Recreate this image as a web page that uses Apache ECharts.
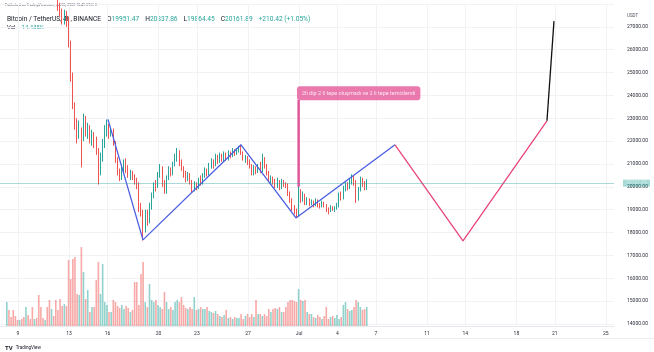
<!DOCTYPE html>
<html>
<head>
<meta charset="utf-8">
<script src="https://cdn.jsdelivr.net/npm/echarts@6/dist/echarts.min.js"></script>
<style>
  html, body { margin: 0; padding: 0; background: #fff; }
  #main { width: 654px; height: 352px; }
</style>
</head>
<body>
<div id="main"></div>
<script>
// BTC/USDT 4h (Binance), times in UTC+3, x = days since Jun 1 00:00
var firstCandleDay = 7.125;   // Jun 8 03:00
var candleStep = 1 / 6;       // 4 hours

// [open, close, low, high]
var candles = [
  [31100, 31250, 30950, 31350], [31250, 30900, 30800, 31300], [30900, 30600, 30400, 31000],
  [30600, 30400, 30200, 30750], [30400, 30250, 30050, 30500], [30250, 30200, 30050, 30400],
  [30200, 30400, 30100, 30650], [30400, 30250, 30150, 30500], [30250, 30150, 30000, 30350],
  [30150, 30300, 30050, 30400], [30300, 30200, 30100, 30450], [30200, 30100, 30000, 30300],
  [30100, 29950, 29850, 30200], [29950, 30050, 29850, 30150], [30050, 29700, 29600, 30100],
  [29700, 29300, 29200, 29800], [29300, 29150, 28900, 29400], [29150, 29100, 29000, 29300],
  [29100, 29200, 29000, 29450], [29200, 29000, 28900, 29300], [29000, 28750, 28600, 29100],
  [28750, 28800, 28600, 28950], [28800, 28450, 28300, 28900], [28450, 28400, 28200, 28550],
  [28400, 27900, 27700, 28500], [27900, 27650, 27450, 28050], [27650, 27400, 27100, 27800],
  [27400, 27550, 27100, 27750], [27550, 27300, 27000, 27700], [27300, 26300, 26100, 27450],
  [26300, 24800, 24600, 26400], [24800, 23500, 23400, 25000], [23500, 22800, 22500, 23700],
  [22800, 22300, 21900, 23000], [22300, 22500, 22100, 22900], [22500, 22100, 20850, 22600],
  [22100, 22900, 22000, 23200], [22900, 22400, 22200, 23100], [22400, 22600, 22100, 22800],
  [22600, 22100, 21900, 22700], [22100, 22300, 21800, 22500], [22300, 22050, 21700, 22400],
  [22050, 21600, 21400, 22200], [21600, 20600, 20100, 21700], [20600, 21300, 20500, 21500],
  [21300, 21900, 21100, 22100], [21900, 22500, 21700, 22700], [22500, 22600, 22200, 22950],
  [22600, 22300, 22100, 22750], [22300, 22450, 22200, 22600], [22450, 21900, 21800, 22550],
  [21900, 21200, 21050, 22000], [21200, 20700, 20500, 21300], [20700, 20400, 20250, 20800],
  [20400, 20700, 20300, 20900], [20700, 21000, 20600, 21200], [21000, 20800, 20600, 21250],
  [20800, 20500, 20400, 20950], [20500, 20600, 20300, 20750], [20600, 20450, 20300, 20700],
  [20450, 20300, 20100, 20550], [20300, 20100, 19900, 20400], [20100, 19100, 18900, 20200],
  [19100, 18900, 18700, 19300], [18900, 18200, 17650, 19000], [18200, 18800, 18000, 19000],
  [18800, 18500, 18300, 19000], [18500, 19100, 18400, 19300], [19100, 19600, 19000, 19750],
  [19600, 20100, 19500, 20200], [20100, 20000, 19800, 20300], [20000, 20500, 19950, 20650],
  [20500, 20800, 20400, 21000], [20800, 20200, 20000, 20900], [20200, 19800, 19700, 20300],
  [19800, 20400, 19700, 20500], [20400, 20700, 20300, 20900], [20700, 20600, 20450, 20850],
  [20600, 21000, 20500, 21100], [21000, 21300, 20900, 21450], [21300, 21500, 21100, 21700],
  [21500, 21100, 20900, 21600], [21100, 20800, 20700, 21200], [20800, 20600, 20400, 20900],
  [20600, 20400, 20200, 20700], [20400, 20500, 20250, 20650], [20500, 20200, 20100, 20600],
  [20200, 19950, 19750, 20300], [19950, 20100, 19800, 20250], [20100, 20000, 19850, 20200],
  [20000, 20300, 19900, 20400], [20300, 20200, 20050, 20500], [20200, 20500, 20100, 20600],
  [20500, 20700, 20400, 20850], [20700, 20600, 20450, 20800], [20600, 20900, 20500, 21050],
  [20900, 21100, 20800, 21250], [21100, 20950, 20800, 21200], [20950, 21300, 20900, 21450],
  [21300, 21150, 21000, 21400], [21150, 21350, 21050, 21500], [21350, 21200, 21100, 21450],
  [21200, 21400, 21100, 21550], [21400, 21250, 21150, 21500], [21250, 21450, 21150, 21600],
  [21450, 21350, 21250, 21550], [21350, 21550, 21300, 21700], [21550, 21500, 21350, 21650],
  [21500, 21600, 21400, 21700], [21600, 21750, 21500, 21800], [21750, 21500, 21400, 21850],
  [21500, 21250, 21150, 21550], [21250, 21300, 21050, 21400], [21300, 21050, 20950, 21350],
  [21050, 20900, 20800, 21200], [20900, 20600, 20500, 21000], [20600, 20800, 20500, 20950],
  [20800, 20700, 20550, 20900], [20700, 20850, 20600, 21000], [20850, 20700, 20600, 21100],
  [20700, 21200, 20650, 21450], [21200, 20900, 20800, 21300], [20900, 20600, 20500, 21000],
  [20600, 20300, 20200, 20700], [20300, 20400, 20150, 20500], [20400, 20250, 20100, 20450],
  [20250, 20100, 19950, 20350], [20100, 20200, 19950, 20400], [20200, 20000, 19850, 20300],
  [20000, 20250, 19900, 20350], [20250, 20100, 20000, 20300], [20100, 20050, 19950, 20200],
  [20050, 19700, 19600, 20150], [19700, 19400, 19300, 19800], [19400, 19100, 18950, 19500],
  [19100, 18900, 18800, 19200], [18900, 18800, 18640, 19050], [18800, 19800, 18700, 20100],
  [19800, 19500, 19300, 19900], [19500, 19650, 19350, 19800], [19650, 19300, 19200, 19700],
  [19300, 19450, 19200, 19550], [19450, 19300, 19150, 19500], [19300, 19350, 19200, 19450],
  [19350, 19200, 19100, 19400], [19200, 19400, 19150, 19500], [19400, 19250, 19100, 19450],
  [19250, 19150, 19050, 19300], [19150, 19300, 19100, 19400], [19300, 19200, 19100, 19350],
  [19200, 19050, 18900, 19250], [19050, 18950, 18800, 19100], [18950, 19100, 18900, 19200],
  [19100, 19000, 18950, 19150], [19000, 19050, 18900, 19150], [19050, 19200, 19000, 19300],
  [19200, 19650, 19100, 19750], [19650, 19550, 19400, 19800], [19550, 19900, 19450, 20050],
  [19900, 20050, 19800, 20200], [20050, 19950, 19850, 20200], [19950, 20200, 19900, 20350],
  [20200, 20400, 20100, 20550], [20400, 20200, 20050, 20500], [20200, 19500, 19300, 20300],
  [19500, 19900, 19400, 20000], [19900, 20300, 19800, 20450], [20300, 20150, 20000, 20400],
  [20150, 19950, 19850, 20250], [19951.47, 20161.89, 19864.45, 20337.86]
];

// volume, thousands of BTC
var volumes = [
  18.2, 12.2, 6.8, 12.2, 7.6, 4.6, 4.6, 5.3, 6.8, 14.4, 8.4, 5.3, 14.4, 5.3, 6.1, 23.6,
  14.4, 6.1, 4.6, 14.4, 19.8, 12.9, 7.6, 19.8, 12.2, 20.5, 15.2, 16.7, 15.2, 50.2, 35.7, 50.9,
  52.4, 24.3, 23.6, 60.0, 41.0, 20.5, 27.4, 10.6, 14.4, 14.4, 35.0, 48.6, 24.3, 47.1, 18.2, 16.0,
  10.6, 10.6, 19.8, 18.2, 15.2, 13.7, 16.0, 12.9, 15.2, 13.7, 10.6, 12.2,
  33.4, 33.4, 16.0, 39.5, 48.6, 18.2, 14.4, 31.9, 19.8, 18.2, 19.8, 16.0, 14.4, 12.9, 25.8, 18.2,
  12.9, 14.4, 12.2, 18.2, 19.8, 18.2, 22.0, 16.0, 13.7, 12.9, 14.4, 12.9, 22.0, 12.2, 12.9,
  14.4, 12.9, 12.9, 14.4, 11.4, 10.6, 9.9, 11.4, 9.1,
  7.6, 6.8, 8.4, 12.2, 6.1, 6.8, 5.3, 6.8, 6.1, 6.1,
  9.1, 5.3, 7.6, 9.1, 6.8, 9.1, 6.8, 19.8, 9.1, 9.1,
  7.6, 9.1, 7.6, 12.9, 10.6, 12.9, 13.7, 12.9, 14.4, 10.6,
  10.6, 14.4, 18.2, 19.8, 19.8, 19.0, 18.2, 28.1, 19.8, 19.0,
  19.8, 10.6, 9.1, 9.1, 6.8, 6.1, 8.4, 6.8, 5.3, 7.6,
  14.4, 5.3, 6.8, 7.6, 6.1, 8.4, 5.3, 6.8, 16.0, 18.2,
  12.9, 11.4, 12.2, 14.4, 19.8, 18.2, 14.4, 12.2, 12.9, 14.435
];

var tickDays = [8, 12, 15, 19, 22, 26, 30, 33, 36, 40, 43, 47, 50, 54];
var tickLabels = ['9', '13', '16', '20', '23', '27', 'Jul', '4', '7', '11', '14', '18', '21', '25'];

// drawn pattern: [day, price]
var blueWave = [[15.04, 22950], [17.78, 17680], [25.45, 21840], [29.75, 18640], [37.5, 21840]];
var pinkWave = [[37.5, 21840], [42.82, 17640], [49.39, 22890]];
var blackLeg = [[49.39, 22890], [49.94, 27250]];
var notePointer = [[29.96, 20000], [29.96, 23800]];
var noteAnchor = [[29.83, 24090]];
var noteText = '2li dip 2 li tepe oluşmadı ve 2 li tepe temizlendi';

var lastPrice = 20161.89;
var lastVolume = 14.435;

var UP = '#26a69a', DOWN = '#ef5350';
var FONT = 'Roboto';

var candleData = candles.map(function (c, i) {
  return [firstCandleDay + i * candleStep, c[0], c[1], c[2], c[3]];
});
var volumeData = volumes.map(function (v, i) {
  var up = candles[i][1] >= candles[i][0];
  return {
    value: [firstCandleDay + i * candleStep, v],
    itemStyle: { color: up ? 'rgba(38,166,154,0.5)' : 'rgba(239,83,80,0.5)' }
  };
});

var xMin = 6.592, xMax = 54.636;
var chart = echarts.init(document.getElementById('main'));
chart.setOption({
  animation: false,
  backgroundColor: '#fff',
  textStyle: { fontFamily: FONT },
  grid: [
    { left: 0, right: 40, top: 4, height: 320 },
    { left: 0, right: 40, top: 226, height: 100 }
  ],
  xAxis: [
    {
      type: 'value', gridIndex: 0, min: xMin, max: xMax,
      axisLine: { show: false }, axisLabel: { show: false },
      axisTick: { show: false, customValues: tickDays },
      splitLine: { show: true, lineStyle: { color: '#f0f2f6', width: 1 } }
    },
    {
      type: 'value', gridIndex: 1, min: xMin, max: xMax,
      axisLine: { show: true, lineStyle: { color: '#e6e8ee' } },
      axisTick: { show: false, customValues: tickDays },
      splitLine: { show: false },
      axisLabel: {
        customValues: tickDays, fontSize: 5, color: '#2a2e39', margin: 5, fontFamily: FONT,
        formatter: function (v) {
          var k = tickDays.indexOf(v);
          return k < 0 ? '' : tickLabels[k];
        }
      }
    }
  ],
  yAxis: [
    {
      type: 'value', gridIndex: 0, position: 'right', min: 14000, max: 28000, interval: 1000,
      axisLine: { show: false }, axisTick: { show: false },
      splitLine: { show: true, lineStyle: { color: '#f0f2f6', width: 1 } },
      axisLabel: {
        fontSize: 5, color: '#2a2e39', margin: 13, fontFamily: FONT,
        formatter: function (v) { return v >= 28000 ? '' : v.toFixed(2); }
      }
    },
    { type: 'value', gridIndex: 1, min: 0, max: 76, show: false }
  ],
  series: [
    {
      type: 'bar', xAxisIndex: 1, yAxisIndex: 1, data: volumeData,
      barWidth: 1.6, silent: true,
      markLine: {
        silent: true, symbol: 'none',
        lineStyle: { opacity: 0 },
        label: {
          position: 'end', distance: 9, formatter: lastVolume.toFixed(3) + 'K',
          backgroundColor: UP, color: '#fff', fontSize: 5, padding: [1, 3, 1, 3], fontFamily: FONT
        },
        data: [{ yAxis: lastVolume }]
      }
    },
    {
      type: 'candlestick', xAxisIndex: 0, yAxisIndex: 0,
      data: candleData,
      encode: { x: 0, y: [1, 2, 3, 4] },
      barWidth: 1,
      itemStyle: { color: UP, color0: DOWN, borderColor: UP, borderColor0: DOWN, borderWidth: 1 },
      markLine: {
        silent: true, symbol: 'none',
        lineStyle: { color: UP, opacity: 0.4, width: 1, type: 'solid' },
        label: {
          position: 'end', distance: 9, formatter: lastPrice.toFixed(2),
          backgroundColor: UP, color: '#fff', fontSize: 5, padding: [1, 3, 1, 3], fontFamily: FONT
        },
        data: [{ yAxis: lastPrice }]
      }
    },
    {
      type: 'line', xAxisIndex: 0, yAxisIndex: 0, data: blueWave,
      symbol: 'none', silent: true, lineStyle: { color: '#4a5ee0', width: 1.3 }
    },
    {
      type: 'line', xAxisIndex: 0, yAxisIndex: 0, data: pinkWave,
      symbol: 'none', silent: true, lineStyle: { color: '#e8457c', width: 1.3 }
    },
    {
      type: 'line', xAxisIndex: 0, yAxisIndex: 0, data: blackLeg,
      symbol: 'none', silent: true, lineStyle: { color: '#111', width: 1.3 }
    },
    {
      type: 'line', xAxisIndex: 0, yAxisIndex: 0, data: notePointer,
      symbol: 'none', silent: true, lineStyle: { color: '#e0589a', width: 2.5 }
    },
    {
      type: 'scatter', xAxisIndex: 0, yAxisIndex: 0, data: noteAnchor,
      symbolSize: 0, silent: true,
      label: {
        show: true, position: 'right', distance: 0, formatter: noteText,
        backgroundColor: '#e5579a', color: '#fff', fontSize: 5.5, fontFamily: FONT,
        padding: [4, 5, 4, 5], borderRadius: 3
      }
    }
  ],
  graphic: [
    {
      type: 'text', left: 5, top: 3,
      style: { text: 'Published on TradingView.com, Jul 06, 2022 10:49 UTC+3', fontSize: 3.6, fill: '#50535e', fontFamily: FONT }
    },
    {
      type: 'text', left: 7, top: 13,
      style: {
        text: '{n|Bitcoin / TetherUS, 4h, BINANCE}  {l|O}{v|19951.47}  {l|H}{v|20337.86}  {l|L}{v|19864.45}  {l|C}{v|20161.89}  {v|+210.42 (+1.05%)}',
        fontFamily: FONT,
        rich: {
          n: { fontSize: 6.6, fill: '#131722', fontFamily: FONT },
          l: { fontSize: 6.6, fill: '#131722', fontFamily: FONT },
          v: { fontSize: 6.6, fill: UP, fontFamily: FONT }
        }
      }
    },
    {
      type: 'text', left: 7, top: 21,
      style: {
        text: '{l|Vol}  {v|14.435K}', fontFamily: FONT,
        rich: {
          l: { fontSize: 6, fill: '#131722', fontFamily: FONT },
          v: { fontSize: 6, fill: UP, fontFamily: FONT }
        }
      }
    },
    {
      type: 'text', left: 627, top: 13,
      style: { text: 'USDT', fontSize: 4.5, fill: '#50535e', fontFamily: FONT }
    },
    {
      type: 'rect', left: 0, top: 338, shape: { width: 654, height: 1 },
      style: { fill: '#eceef2' }
    },
    {
      type: 'text', left: 5, top: 342,
      style: {
        text: '{b|TV} {t|TradingView}', fontFamily: FONT,
        rich: {
          b: { fontSize: 6, fontWeight: 'bold', fill: '#131722', fontFamily: FONT },
          t: { fontSize: 4.6, fill: '#131722', fontFamily: FONT }
        }
      }
    }
  ]
});
</script>
</body>
</html>
